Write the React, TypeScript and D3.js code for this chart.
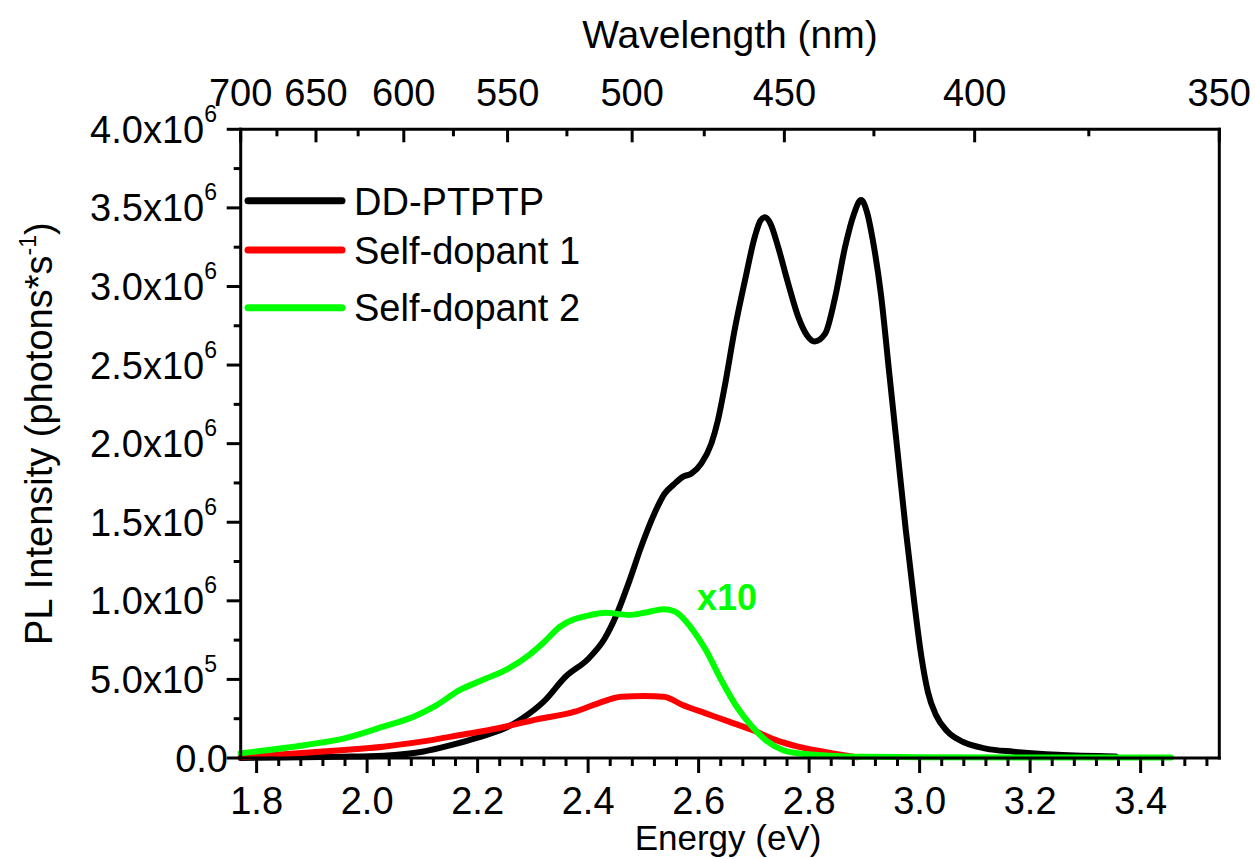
import React from "react";
import * as d3 from "d3";

// ---- data (PL intensity in units of 1e6 photons/s) ----
const ddEnergy = [1.771, 1.85, 1.95, 2.03, 2.1, 2.15, 2.2, 2.25, 2.28, 2.32, 2.36, 2.4, 2.43, 2.45, 2.475, 2.496, 2.52, 2.538, 2.555, 2.572, 2.587, 2.605, 2.623, 2.635, 2.647, 2.665, 2.684, 2.702, 2.712, 2.72, 2.73, 2.744, 2.762, 2.781, 2.796, 2.81, 2.829, 2.847, 2.865, 2.881, 2.894, 2.905, 2.915, 2.93, 2.945, 2.96, 2.975, 2.99, 3.003, 3.015, 3.03, 3.05, 3.08, 3.12, 3.17, 3.25, 3.355];
const ddValue = [0.0, 0.003, 0.008, 0.015, 0.04, 0.08, 0.13, 0.19, 0.25, 0.36, 0.52, 0.63, 0.76, 0.9, 1.13, 1.344, 1.556, 1.68, 1.74, 1.79, 1.81, 1.875, 2.0, 2.15, 2.36, 2.72, 3.04, 3.32, 3.42, 3.44, 3.4, 3.25, 3.02, 2.8, 2.69, 2.65, 2.7, 2.93, 3.25, 3.46, 3.55, 3.47, 3.3, 2.95, 2.45, 1.95, 1.45, 1.0, 0.65, 0.42, 0.27, 0.17, 0.1, 0.06, 0.04, 0.02, 0.01];

const sd1Energy = [1.771, 1.889, 1.959, 2.029, 2.098, 2.168, 2.237, 2.307, 2.376, 2.418, 2.46, 2.502, 2.537, 2.571, 2.613, 2.655, 2.697, 2.739, 2.78, 2.836, 2.887];
const sd1Value = [0.005, 0.034, 0.051, 0.072, 0.104, 0.146, 0.189, 0.246, 0.295, 0.348, 0.39, 0.394, 0.39, 0.337, 0.284, 0.231, 0.178, 0.115, 0.072, 0.034, 0.005];

// Self-dopant 2, shown multiplied by 10
const sd2Energy = [1.771, 1.889, 1.959, 2.029, 2.084, 2.126, 2.168, 2.209, 2.251, 2.293, 2.321, 2.349, 2.405, 2.432, 2.474, 2.502, 2.537, 2.557, 2.585, 2.613, 2.641, 2.669, 2.697, 2.725, 2.752, 2.78, 2.836, 2.9, 3.0, 3.2, 3.455];
const sd2Value = [0.03, 0.083, 0.125, 0.199, 0.263, 0.337, 0.433, 0.496, 0.56, 0.655, 0.74, 0.835, 0.91, 0.924, 0.91, 0.924, 0.946, 0.932, 0.835, 0.687, 0.496, 0.326, 0.199, 0.104, 0.051, 0.03, 0.015, 0.008, 0.005, 0.003, 0.003];

const seriesNames = ["DD-PTPTP", "Self-dopant 1", "Self-dopant 2"];
const seriesColors = ["#000000", "#ff0000", "#00ff00"];

const energyTicks = [1.8, 2.0, 2.2, 2.4, 2.6, 2.8, 3.0, 3.2, 3.4];
const wavelengthTicks = [700, 650, 600, 550, 500, 450, 400, 350];
const wavelengthMinor = [675, 625, 575, 525, 475, 425, 375];
const intensityTicks = [0, 0.5, 1.0, 1.5, 2.0, 2.5, 3.0, 3.5, 4.0];

const HC = 1239.84;

export default function App() {
  const W = 1255, H = 859;
  const left = 240.7, right = 1219.3, top = 129.3, bottom = 758;
  const x = d3.scaleLinear().domain([HC / 700, HC / 350]).range([left, right]);
  const y = d3.scaleLinear().domain([0, 4.0]).range([bottom, top]);
  const font = "'Liberation Sans', Arial, sans-serif";

  const line = d3.line<[number, number]>()
    .x(d => x(d[0]))
    .y(d => y(d[1]))
    .curve(d3.curveMonotoneX);

  const series = [
    { e: ddEnergy, v: ddValue },
    { e: sd1Energy, v: sd1Value },
    { e: sd2Energy, v: sd2Value },
  ];

  const minorE = d3.range(1.84, 3.55, 0.04).filter(e => !energyTicks.some(t => Math.abs(t - e) < 1e-6) && e <= HC / 350);
  const minorY = d3.range(0.25, 4.0, 0.5);

  const fmtY = (v: number) => {
    if (v === 0) return { m: "0.0", e: null };
    if (v < 1) return { m: (v * 10).toFixed(1) + "x10", e: "5" };
    return { m: v.toFixed(1) + "x10", e: "6" };
  };

  const sw = 3;
  return (
    <svg width={W} height={H} style={{ position: "absolute", left: 0, top: 0, background: "#fff" }} fontFamily={font}>
      <rect x={0} y={0} width={W} height={H} fill="#fff" />
      {/* data lines */}
      {series.map((s, i) => (
        <path key={i} d={line(s.e.map((e, j) => [e, s.v[j]] as [number, number])) || ""} fill="none"
          stroke={seriesColors[i]} strokeWidth={6} strokeLinejoin="round" strokeLinecap="round" />
      ))}
      {/* frame */}
      <line x1={left} x2={right} y1={bottom} y2={bottom} stroke="#000" strokeWidth={sw} strokeLinecap="square" />
      <line x1={left} x2={right} y1={top} y2={top} stroke="#000" strokeWidth={sw} strokeLinecap="square" />
      <line x1={left} x2={left} y1={top} y2={bottom} stroke="#000" strokeWidth={sw} strokeLinecap="square" />
      <line x1={right} x2={right} y1={top} y2={bottom} stroke="#000" strokeWidth={sw} strokeLinecap="square" />
      {/* bottom ticks */}
      {energyTicks.map(t => (
        <g key={"b" + t}>
          <line x1={x(t)} x2={x(t)} y1={bottom} y2={bottom + 15} stroke="#000" strokeWidth={sw} />
          <text x={x(t)} y={814} textAnchor="middle" fontSize={38}>{t.toFixed(1)}</text>
        </g>
      ))}
      {minorE.map(t => (
        <line key={"bm" + t} x1={x(t)} x2={x(t)} y1={bottom} y2={bottom + 8} stroke="#000" strokeWidth={sw} />
      ))}
      {/* top ticks (wavelength) */}
      {wavelengthTicks.map(w => (
        <g key={"t" + w}>
          <line x1={x(HC / w)} x2={x(HC / w)} y1={top} y2={top + 13} stroke="#000" strokeWidth={sw} />
          <text x={x(HC / w)} y={106} textAnchor="middle" fontSize={38}>{w}</text>
        </g>
      ))}
      {wavelengthMinor.map(w => (
        <line key={"tm" + w} x1={x(HC / w)} x2={x(HC / w)} y1={top} y2={top + 7} stroke="#000" strokeWidth={sw} />
      ))}
      {/* left ticks */}
      {intensityTicks.map(v => {
        const f = fmtY(v);
        return (
          <g key={"l" + v}>
            <line x1={left - 14} x2={left} y1={y(v)} y2={y(v)} stroke="#000" strokeWidth={sw} />
            <text x={f.e ? 217 : 228} y={y(v) + 13.5} textAnchor="end" fontSize={38}>
              <tspan>{f.m}</tspan>
              {f.e && <tspan dy={-21} fontSize={23}>{f.e}</tspan>}
            </text>
          </g>
        );
      })}
      {minorY.map(v => (
        <line key={"lm" + v} x1={left - 7} x2={left} y1={y(v)} y2={y(v)} stroke="#000" strokeWidth={sw} />
      ))}
      {/* axis titles */}
      <text x={730} y={48} textAnchor="middle" fontSize={39}>Wavelength (nm)</text>
      <text x={728} y={850} textAnchor="middle" fontSize={35}>Energy (eV)</text>
      <text transform={`translate(52, ${(top + bottom) / 2 - 10}) rotate(-90)`} textAnchor="middle" fontSize={38}>
        <tspan>PL Intensity (photons*s</tspan>
        <tspan dy={-16} fontSize={23}>-1</tspan>
        <tspan dy={16}>)</tspan>
      </text>
      {/* legend */}
      {seriesNames.map((n, i) => {
        const ly = [200.7, 250, 307.7][i];
        const ty = [215, 264, 321][i];
        return (
          <g key={n}>
            <line x1={248} x2={342} y1={ly} y2={ly} stroke={seriesColors[i]} strokeWidth={7} strokeLinecap="round" />
            <text x={354} y={ty} fontSize={38}>{n}</text>
          </g>
        );
      })}
      {/* x10 annotation */}
      <text x={697} y={610} fontSize={36} fontWeight="bold" fill="#00ff00">x10</text>
    </svg>
  );
}
